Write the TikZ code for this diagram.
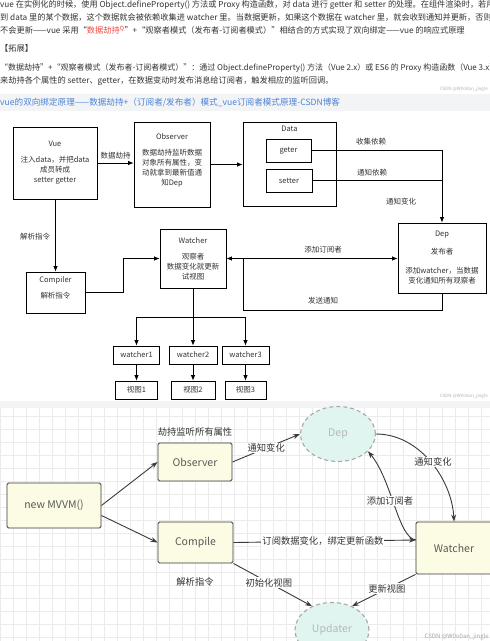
\documentclass[tikz,border=0pt]{standalone}
\usepackage{fontspec}
\setmainfont{Noto Sans CJK SC}
\usetikzlibrary{shapes.geometric,arrows.meta}
\definecolor{txtgray}{HTML}{333333}
\definecolor{hotred}{HTML}{F0483E}
\definecolor{linkblue}{HTML}{4D82D6}
\definecolor{bandgray}{HTML}{F3F4F6}
\definecolor{boxivory}{HTML}{FCFCE4}
\definecolor{mint}{HTML}{E0F5EF}
\definecolor{edgegray}{HTML}{A8A8A8}
\definecolor{inkgray}{HTML}{3A3A3A}
\definecolor{gridgray}{HTML}{EBEBEB}

\tikzset{
  box/.style={draw, line width=0.8pt, align=center, inner sep=1pt, text=txtgray, font=\fontsize{7.5}{10}\selectfont},
  lbl/.style={text=txtgray, font=\fontsize{7.5}{10}\selectfont, inner sep=1pt},
  arr/.style={-{Latex[length=5.5pt,width=4.5pt]}, line width=0.8pt},
  toptxt/.style={anchor=west, inner sep=0pt, text=txtgray, font=\fontsize{8.2}{10}\selectfont},
  mbox/.style={draw=inkgray, fill=boxivory, rounded corners=1.5pt, line width=0.9pt, text=black!65, font=\fontsize{10.5}{12}\selectfont},
  mell/.style={ellipse, draw=edgegray, dash pattern=on 4pt off 3pt, fill=mint, line width=1.1pt, text=black!28, font=\fontsize{10.5}{12}\selectfont},
  mlbl/.style={text=txtgray, font=\fontsize{9.3}{11}\selectfont, inner sep=1pt},
  olbl/.style={mlbl, fill=white},
  marr/.style={-{Stealth[length=7pt,width=5pt]}, draw=inkgray, line width=0.9pt},
  wmark/.style={text=black!30, font=\fontsize{4.5}{5}\selectfont, anchor=east, inner sep=0pt}
}

\begin{document}
\begin{tikzpicture}[x=1pt, y=-1pt]
    \useasboundingbox (0,0) rectangle (490,641);
    \clip (0,0) rectangle (490,641);
    \fill[white] (0,0) rectangle (490,641);

    \node[toptxt] (t1) at (0,5) {vue 在实例化的时候，使用 Object.defineProperty() 方法或 Proxy 构造函数，对 data 进行 getter 和 setter 的处理。在组件渲染时，若用};
    \node[toptxt] (t2) at (0,17.5) {到 data 里的某个数据，这个数据就会被依赖收集进 watcher 里。当数据更新，如果这个数据在 watcher 里，就会收到通知并更新，否则};
    \node[toptxt] (t3) at (0,30) {不会更新——vue 采用“\textcolor{hotred}{数据劫持\textsuperscript{Q}}”+“观察者模式（发布者-订阅者模式）”相结合的方式实现了双向绑定——vue 的响应式原理};
    \node[toptxt] (t4) at (0,48) {【拓展】};
    \node[toptxt, font=\fontsize{8}{10}\selectfont] (t5) at (0,68) {“数据劫持”+“观察者模式（发布者-订阅者模式）”：通过 Object.defineProperty() 方法（Vue 2.x）或 ES6 的 Proxy 构造函数（Vue 3.x）};
    \node[toptxt] (t6) at (0,81) {来劫持各个属性的 setter、getter，在数据变动时发布消息给订阅者，触发相应的监听回调。};
    \node[wmark] (wm1) at (488,89) {CSDN @W0o0an\_jingle};
    \fill[bandgray] (0,94) rectangle (490,111);
    \node[toptxt, text=linkblue, font=\fontsize{8.6}{10}\selectfont] (link) at (0,102.5) {vue的双向绑定原理——数据劫持+（订阅者/发布者）模式\_vue订阅者模式原理-CSDN博客};

    \node[box, minimum width=84pt, minimum height=72pt] (vue) at (55,163) {Vue\\[6pt]注入data，并把data\\成员转成\\setter getter};
    \node[box, minimum width=76pt, minimum height=85pt] (obs) at (172,164.5) {Observer\\[6pt]数据劫持监听数据\\对象所有属性，变\\动就拿到最新值通\\知Dep\\\mbox{}};
    \node[box, minimum width=93pt, minimum height=84pt] (data) at (289.5,164) {};
    \node[lbl] (datat) at (289.5,129) {Data};
    \node[box, minimum width=45pt, minimum height=23pt] (geter) at (288.5,150.5) {geter};
    \node[box, minimum width=46pt, minimum height=23pt] (setter) at (289,180.5) {setter};
    \node[box, minimum width=88pt, minimum height=70pt] (dep) at (442,258) {Dep\\[8pt]发布者\\[9pt]添加watcher，当数据\\变化通知所有观察者};
    \node[box, minimum width=66pt, minimum height=59pt] (watcher) at (193,258.5) {Watcher\\[6pt]观察者\\数据变化就更新\\试视图};
    \node[box, minimum width=59pt, minimum height=41pt] (compiler) at (55.5,292.5) {Compiler\\[6pt]解析指令\\\mbox{}};
    \node[box, minimum width=46pt, minimum height=18pt] (w1) at (136.5,355) {watcher1};
    \node[box, minimum width=48pt, minimum height=18pt] (w2) at (193,355) {watcher2};
    \node[box, minimum width=47pt, minimum height=18pt] (w3) at (245.5,355) {watcher3};
    \node[box, minimum width=42pt, minimum height=18pt] (v1) at (136.5,390) {视图1};
    \node[box, minimum width=44pt, minimum height=18pt] (v2) at (193,390) {视图2};
    \node[box, minimum width=41pt, minimum height=18pt] (v3) at (245.5,390) {视图3};

    \draw[arr] (vue.east) -- node[lbl, above=2pt] (l1) {数据劫持} (obs.west |- vue.east);
    \draw[arr] (obs.east) -- (data.west |- obs.east);
    \draw[arr] (geter.east) -- (dep.north |- geter.east) -- (dep.north);
    \draw[line width=0.8pt] (setter.east) -- (dep.north |- setter.east);
    \node[lbl] (l2) at (371,142) {收集依赖};
    \node[lbl] (l3) at (372,173) {通知依赖};
    \node[lbl] (l4) at (401,202) {通知变化};
    \draw[arr] (vue.south) -- (compiler.north |- vue.south) -- (compiler.north);
    \node[lbl] (l5) at (35,237) {解析指令};
    \coordinate (cbend) at (123,258.5);
    \draw[arr] (compiler.east) -| (cbend) -- (watcher.west);
    \coordinate (sub) at (243,258.5);
    \coordinate (ret) at (243,310);
    \draw[arr] (dep.south) |- (ret) -- (sub) -- (watcher.east);
    \draw[arr] (sub) -- (dep.west |- sub);
    \node[lbl] (l6) at (323,250) {添加订阅者};
    \node[lbl] (l7) at (323,301) {发送通知};
    \coordinate (fork) at (193,317);
    \draw[line width=0.8pt] (watcher.south) -- (fork);
    \draw[line width=0.8pt] (w1.north |- fork) -- (w3.north |- fork);
    \foreach \i in {1,2,3} {
        \draw[arr] (w\i.north |- fork) -- (w\i.north);
        \draw[arr] (w\i.south) -- (v\i.north);
    }
    \node[wmark] (wm2) at (488,396) {CSDN @W0o0an\_jingle};

    \fill[bandgray] (0,401) rectangle (490,408);
    \draw[gridgray, line width=0.4pt, step=13pt] (0,408) grid (490,641);

    \node[mbox, minimum width=94pt, minimum height=45pt] (mvvm) at (54,505.5) {new MVVM()};
    \node[mbox, minimum width=74pt, minimum height=38pt] (obs2) at (195,462) {Observer};
    \node[mbox, minimum width=75pt, minimum height=41pt] (comp) at (195.5,542.5) {Compile};
    \node[mbox, minimum width=76pt, minimum height=52pt] (wat2) at (454,548) {Watcher};
    \node[mell, minimum width=75pt, minimum height=55pt] (dep2) at (338,434) {Dep};
    \node[mell, minimum width=74pt, minimum height=55pt] (upd) at (332,630) {Updater};
    \node[mlbl] (m1) at (195,432) {劫持监听所有属性};
    \node[mlbl] (m2) at (195,582) {解析指令};

    \coordinate (wl) at (416,540);
    \draw[marr] (mvvm.east) -- (obs2.west);
    \draw[marr] ([yshift=-10pt]mvvm.east) -- (comp.west);
    \draw[marr] (obs2.east) -- node[olbl] (m3) {通知变化} (dep2.west);
    \draw[marr] (dep2.east) .. controls (420,434) and (452,480) .. (wat2.north);
    \node[olbl] (m4) at (433,462) {通知变化};
    \draw[marr] (wl) .. controls (398,538) and (392,480) .. (dep2.-30);
    \node[olbl] (m5) at (390,501) {添加订阅者};
    \draw[marr] (comp.east) -- node[olbl, pos=0.49] (m6) {订阅数据变化，绑定更新函数} (wl);
    \draw[marr] (comp.south east) -- node[olbl, pos=0.45] (m7) {初始化视图} (upd.130);
    \draw[marr] (wat2.south west) -- node[olbl, pos=0.45] (m8) {更新视图} (upd.50);
    \node[wmark, font=\fontsize{6}{7}\selectfont, text=black!35] (wm3) at (489,637) {CSDN @W0o0an\_jingle};
\end{tikzpicture}
\end{document}
